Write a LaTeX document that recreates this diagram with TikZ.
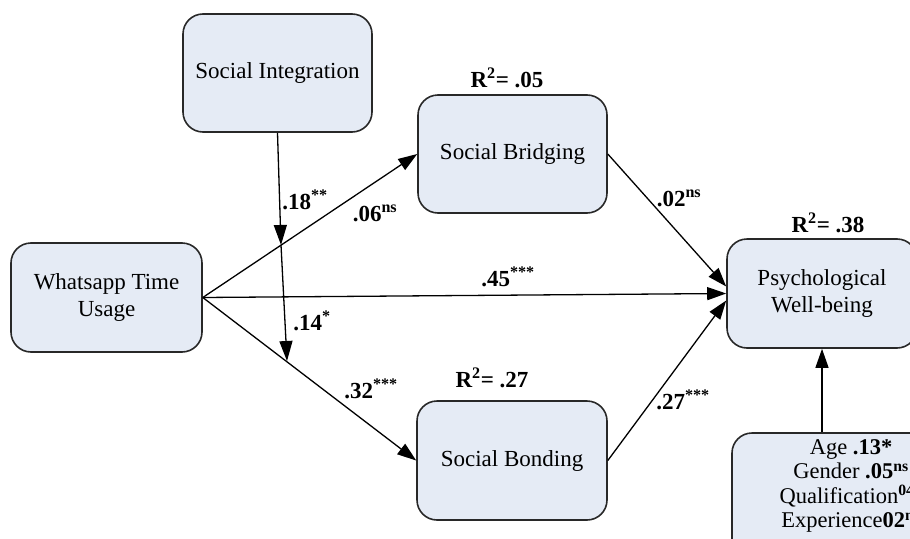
\documentclass[tikz,border=0pt]{standalone}
\usepackage{fontspec}
\setmainfont{Liberation Serif}
\usetikzlibrary{arrows.meta,calc}
\definecolor{boxfill}{RGB}{229,235,245}
\definecolor{boxline}{RGB}{40,40,40}
\tikzset{
  box/.style={draw=boxline,line width=1.6pt,fill=boxfill,rounded corners=20pt,
    align=center,font=\fontsize{23}{27}\selectfont,inner sep=0pt},
  arr/.style={line width=1.3pt,-{Triangle[length=19pt,width=13pt]}},
  lbl/.style={font=\fontsize{23}{26}\selectfont\bfseries,inner sep=0pt},
  midarr/.style={line width=1.3pt,-{Triangle[length=20pt,width=13pt]}}
}
\begin{document}
\begin{tikzpicture}[x=1pt,y=-1pt]
\useasboundingbox (0,0) rectangle (910,538);
\clip (0,0) rectangle (910,538);
% boxes
\node[box,minimum width=189pt,minimum height=118pt] (si) at (277.5,73) {Social Integration};
\node[box,minimum width=191pt,minimum height=109pt] (wa) at (106.5,297.5) {Whatsapp Time\\Usage};
\node[box,minimum width=189pt,minimum height=118pt] (sb) at (512.5,154) {Social Bridging};
\node[box,minimum width=190pt,minimum height=119pt] (sn) at (512,460.5) {Social Bonding};
\node[box,minimum width=190pt,minimum height=109pt] (pw) at (822,293.5) {Psychological\\Well-being};
\node[box,minimum width=240pt,minimum height=130pt] (cv) at (852,498) {};
\node[font=\fontsize{22.5}{24.5}\selectfont,align=center,inner sep=0pt] (cvt) at (851,486)
  {Age \textbf{.13*}\\Gender \textbf{.05}\textsuperscript{\textbf{ns}}\\Qualification\textsuperscript{\textbf{04*}}\\Experience\textbf{02}\textsuperscript{\textbf{ns}}};
% moderation points
\coordinate (m1) at (281,245);
\coordinate (m2) at (287,361);
% connectors
\draw[arr] (wa.east) -- (sb.west);
\draw[arr] (wa.east) -- (sn.west);
\draw[arr] (wa.east) -- (pw.west);
\draw[arr] (sb.east) -- ([yshift=7pt]pw.west);
\draw[arr] (sn.east) -- ([yshift=-7pt]pw.west);
\draw[arr] (cv.north -| pw.south) -- (pw.south);
\draw[midarr] (si.south) -- (m1);
\draw[midarr] (m1) -- (m2);
% labels
\node[lbl] (l18) at (305,200) {.18\textsuperscript{**}};
\node[lbl] (l06) at (375,213) {.06\textsuperscript{ns}};
\node[lbl] (l14) at (312,321) {.14\textsuperscript{*}};
\node[lbl] (l32) at (371,389) {.32\textsuperscript{***}};
\node[lbl] (l45) at (508,277) {.45\textsuperscript{***}};
\node[lbl] (l02) at (679,198) {.02\textsuperscript{ns}};
\node[lbl] (l27) at (683,400) {.27\textsuperscript{***}};
\node[lbl] (r05) at (507,78) {R\textsuperscript{2}= .05};
\node[lbl] (r27) at (492,378) {R\textsuperscript{2}= .27};
\node[lbl] (r38) at (828,223) {R\textsuperscript{2}= .38};
\end{tikzpicture}
\end{document}
